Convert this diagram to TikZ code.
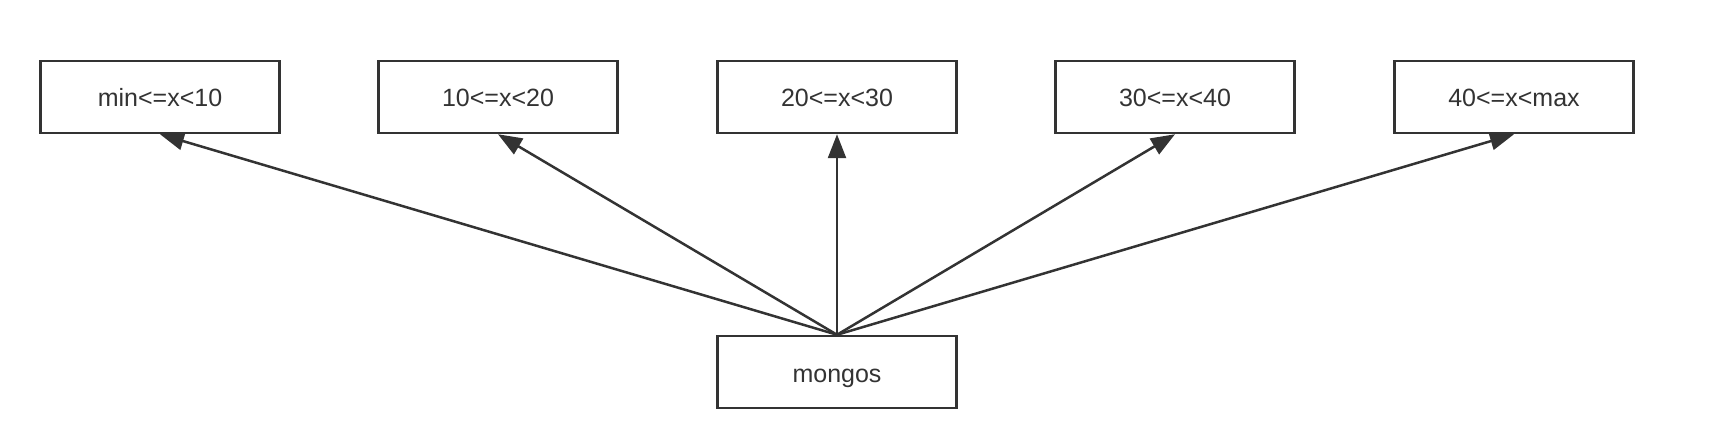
\documentclass[tikz,border=0pt]{standalone}
\usepackage{fontspec}
\setmainfont{Liberation Sans}
\usetikzlibrary{arrows.meta}
\definecolor{ink}{HTML}{333333}
\begin{document}
\begin{tikzpicture}[x=1pt,y=-1pt,
  box/.style={draw=ink,line width=2.5pt,fill=white,minimum width=239pt,minimum height=72pt,inner sep=0pt,text height=20pt,text depth=0pt,text=ink,font=\fontsize{25}{30}\selectfont},
  link/.style={draw=ink,line width=2.5pt,-{Triangle[length=24pt,width=18pt]}}]
\useasboundingbox (0,0) rectangle (1714,446);
\node[box] (b1) at (160,97) {min<=x<10};
\node[box] (b2) at (498,97) {10<=x<20};
\node[box] (b3) at (837,97) {20<=x<30};
\node[box] (b4) at (1175,97) {30<=x<40};
\node[box] (b5) at (1514,97) {40<=x<max};
\node[box] (m) at (837,372) {mongos};
\foreach \b in {b1,b2,b3,b4,b5}{
  \draw[link] (m.north) -- (\b.south);
}
\end{tikzpicture}
\end{document}
